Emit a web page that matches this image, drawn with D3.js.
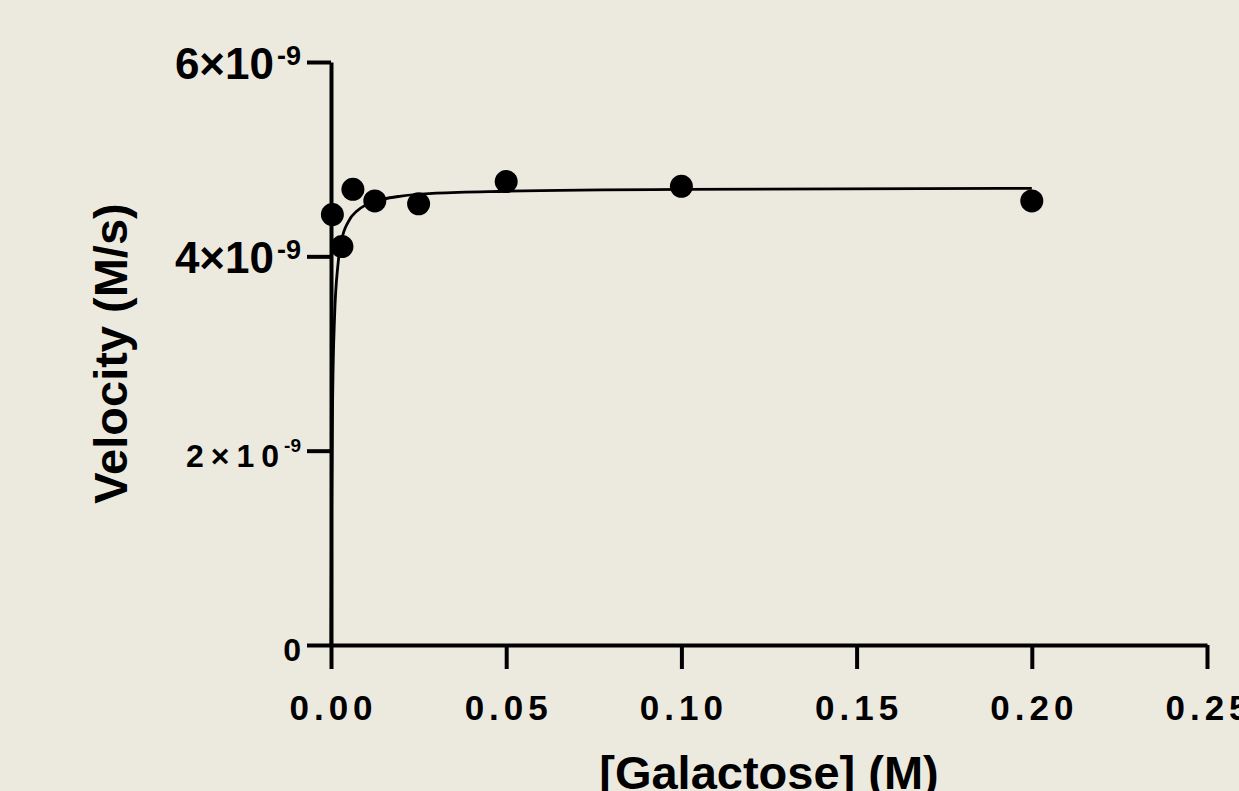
<!DOCTYPE html>
<html>
<head>
<meta charset="utf-8">
<script src="https://cdn.jsdelivr.net/npm/d3@7"></script>
<style>
  html, body { margin: 0; padding: 0; background: #eceadf; }
  svg { display: block; }
  text { font-family: "Liberation Sans", Arial, sans-serif; font-weight: bold; fill: #000; }
</style>
</head>
<body>
<div id="chart"></div>
<script>
// measured points
var substrate = [0.00039, 0.003125, 0.00625, 0.0125, 0.025, 0.05, 0.1, 0.2];
var velocity = [4.43e-9, 4.10e-9, 4.69e-9, 4.57e-9, 4.54e-9, 4.77e-9, 4.72e-9, 4.57e-9];

// fitted curve
var fitX = [0, 0.0001, 0.0002, 0.0005, 0.001, 0.002, 0.003, 0.005, 0.0075, 0.01, 0.015, 0.02, 0.03, 0.05, 0.1, 0.2];
var fitY = [0, 0.94e-9, 1.57e-9, 2.62e-9, 3.36e-9, 3.92e-9, 4.16e-9, 4.36e-9, 4.47e-9, 4.53e-9, 4.59e-9, 4.62e-9, 4.65e-9, 4.67e-9, 4.69e-9, 4.70e-9];

var xTicks = [0, 0.05, 0.10, 0.15, 0.20, 0.25];
var xTickLabels = ["0.00", "0.05", "0.10", "0.15", "0.20", "0.25"];
var yTicks = [0, 2e-9, 4e-9, 6e-9];
var yTickLabels = ["0", "2×10", "4×10", "6×10"];
var yTickExp = ["", "-9", "-9", "-9"];

var xTitle = "[Galactose] (M)";
var yTitle = "Velocity (M/s)";

var width = 1239, height = 791;

var svg = d3.select("#chart").append("svg")
    .attr("width", width)
    .attr("height", height);

var x = d3.scaleLinear().domain([0, 0.25]).range([331, 1207]);
var y = d3.scaleLinear().domain([0, 6e-9]).range([645, 62]);

var xAxis = d3.axisBottom(x).tickValues(xTicks).tickFormat("").tickSize(24).tickSizeOuter(0);
var yAxis = d3.axisLeft(y).tickValues(yTicks).tickFormat("").tickSize(24).tickSizeOuter(0);

function styleAxis(g) {
  g.selectAll(".domain").attr("stroke", "#000").attr("stroke-width", 4);
  g.selectAll(".tick line").attr("stroke", "#000").attr("stroke-width", 4);
}

svg.append("g")
    .attr("transform", "translate(0," + y(0) + ")")
    .call(xAxis)
    .call(styleAxis);

svg.append("g")
    .attr("transform", "translate(" + x(0) + ",0)")
    .call(yAxis)
    .call(styleAxis);

// x tick labels
svg.selectAll(".xlab")
    .data(xTicks)
    .enter().append("text")
    .attr("class", "xlab")
    .attr("x", function(d) { return x(d) + 2.5; })
    .attr("y", 720)
    .attr("text-anchor", "middle")
    .style("font-size", "35px")
    .style("letter-spacing", "5px")
    .text(function(d, i) { return xTickLabels[i]; });

// y tick labels (the 2e-9 one is rendered spaced out and smaller, as in the original)
yTicks.forEach(function(d, i) {
  var spaced = (d === 2e-9);
  var small = (d === 0 || spaced);
  var t = svg.append("text")
      .attr("x", 301)
      .attr("y", y(d) + (small ? 16 : 17))
      .attr("text-anchor", "end")
      .style("font-size", small ? "32px" : "44px");
  t.append("tspan")
      .style("letter-spacing", spaced ? "7px" : "0px")
      .text(yTickLabels[i]);
  if (yTickExp[i]) {
    t.append("tspan")
        .attr("dy", spaced ? -15 : -14)
        .attr("dx", spaced ? -2 : 3)
        .style("font-size", spaced ? "19px" : "27px")
        .text(yTickExp[i]);
  }
});

// fitted curve
var line = d3.line()
    .x(function(d, i) { return x(fitX[i]); })
    .y(function(d, i) { return y(fitY[i]); })
    .curve(d3.curveMonotoneX);

svg.append("path")
    .datum(fitX)
    .attr("fill", "none")
    .attr("stroke", "#000")
    .attr("stroke-width", 2.8)
    .attr("d", line);

// data points
svg.selectAll(".dot")
    .data(substrate)
    .enter().append("circle")
    .attr("class", "dot")
    .attr("cx", function(d) { return x(d); })
    .attr("cy", function(d, i) { return y(velocity[i]); })
    .attr("r", 11.5)
    .attr("fill", "#000");

// axis titles
svg.append("text")
    .attr("x", (x(0) + x(0.25)) / 2)
    .attr("y", 789)
    .attr("text-anchor", "middle")
    .style("font-size", "47px")
    .text(xTitle);

svg.append("text")
    .attr("transform", "translate(127," + ((y(0) + y(6e-9)) / 2) + ") rotate(-90)")
    .attr("text-anchor", "middle")
    .style("font-size", "47px")
    .text(yTitle);
</script>
</body>
</html>
